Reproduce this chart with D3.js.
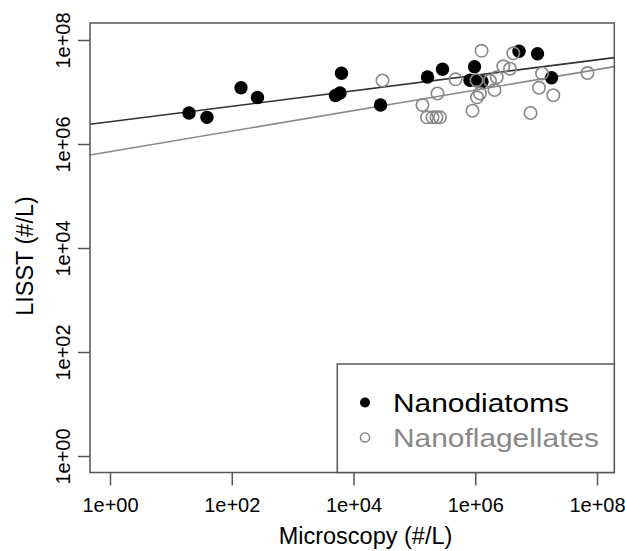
<!DOCTYPE html>
<html><head><meta charset="utf-8">
<script src="https://cdn.jsdelivr.net/npm/d3@7"></script>
<style>
html,body{margin:0;padding:0;background:#fff;}
svg{display:block;font-family:"Liberation Sans",Arial,Helvetica,sans-serif;}
</style></head>
<body>
<svg id="chart" width="625" height="551"></svg>
<script>
// ---- data (log10 values) ----
const diatomLogX = [1.298,1.593,2.152,2.423,3.704,3.778,3.803,4.444,5.216,5.462,5.988,5.914,6.021,6.111,6.719,7.023,7.253];
const diatomLogY = [6.596,6.513,7.083,6.894,6.933,6.981,7.360,6.750,7.288,7.437,7.487,7.225,7.217,7.198,7.783,7.735,7.275];
const flagLogX = [4.476,5.676,6.103,5.380,5.133,5.207,5.298,5.363,5.421,5.955,6.029,6.078,6.021,6.242,6.316,6.352,6.461,6.571,6.625,7.097,7.047,7.282,6.908,7.844];
const flagLogY = [7.221,7.244,7.792,6.971,6.750,6.513,6.513,6.513,6.513,6.640,6.898,6.971,7.227,7.217,7.038,7.283,7.494,7.448,7.744,7.356,7.081,6.938,6.596,7.365];
// regression lines in log-log space: [intercept, slope]
const diatomFit = [6.428, 0.1488];
const flagFit = [5.853, 0.1973];
const tickValues = [1, 1e2, 1e4, 1e6, 1e8];
const tickLabels = ["1e+00","1e+02","1e+04","1e+06","1e+08"];
const seriesNames = ["Nanodiatoms","Nanoflagellates"];
const xTitle = "Microscopy (#/L)";
const yTitle = "LISST (#/L)";

// ---- layout ----
const L = 90, R = 614.3, T = 23, B = 472.5;
const svg = d3.select("#chart");
const x = d3.scaleLog().domain([Math.pow(10,-0.3285), Math.pow(10,8.284)]).range([L, R]);
const y = d3.scaleLog().domain([Math.pow(10,-0.317), Math.pow(10,8.327)]).range([B, T]);

svg.append("defs").append("clipPath").attr("id","clip")
  .append("rect").attr("x",L).attr("y",T).attr("width",R-L).attr("height",B-T);

// regression lines
function fitLine(fit, color){
  const xs = x.domain();
  const pts = xs.map(v => [x(v), y(Math.pow(10, fit[0] + fit[1]*Math.log10(v)))]);
  svg.append("line").attr("clip-path","url(#clip)")
    .attr("x1",pts[0][0]).attr("y1",pts[0][1]).attr("x2",pts[1][0]).attr("y2",pts[1][1])
    .attr("stroke",color).attr("stroke-width",1.6);
}
fitLine(diatomFit, "#333");
fitLine(flagFit, "#8a8a8a");

const diatoms = diatomLogX.map((v,i)=>({x:Math.pow(10,v), y:Math.pow(10,diatomLogY[i])}));
const flags = flagLogX.map((v,i)=>({x:Math.pow(10,v), y:Math.pow(10,flagLogY[i])}));

svg.append("g").selectAll("circle").data(diatoms).join("circle")
  .attr("cx",d=>x(d.x)).attr("cy",d=>y(d.y)).attr("r",6.7).attr("fill","#000");
svg.append("g").selectAll("circle").data(flags).join("circle")
  .attr("cx",d=>x(d.x)).attr("cy",d=>y(d.y)).attr("r",6.2)
  .attr("fill","none").attr("stroke","#888").attr("stroke-width",1.6);

// box
svg.append("rect").attr("x",L).attr("y",T).attr("width",R-L).attr("height",B-T)
  .attr("fill","none").attr("stroke","#555").attr("stroke-width",1.5);

// axes
const fmt = d => tickLabels[tickValues.indexOf(d)];
const xa = svg.append("g").attr("transform",`translate(0,${B})`)
  .call(d3.axisBottom(x).tickValues(tickValues).tickFormat(fmt).tickSize(13).tickPadding(12));
xa.select(".domain").remove();
xa.selectAll("line").attr("stroke","#555").attr("stroke-width",1.5);
xa.selectAll("text").attr("font-size",20).attr("fill","#000").attr("font-family","Liberation Sans, Arial, sans-serif");

const ya = svg.append("g").attr("transform",`translate(${L},0)`)
  .call(d3.axisLeft(y).tickValues(tickValues).tickFormat(fmt).tickSize(12).tickPadding(0));
ya.select(".domain").remove();
ya.selectAll("line").attr("stroke","#555").attr("stroke-width",1.5);
ya.selectAll("text").attr("font-size",20).attr("fill","#000")
  .attr("font-family","Liberation Sans, Arial, sans-serif")
  .attr("text-anchor","middle").attr("dy",null)
  .attr("transform","rotate(-90)").attr("x",0).attr("y",-20);
// place rotated labels: baseline at x=70, centered on tick
ya.selectAll(".tick text").each(function(){
  d3.select(this).attr("transform","translate(-20,0) rotate(-90)").attr("x",0).attr("y",0);
});

// axis titles
svg.append("text").attr("x",(x(1)+x(1e8))/2 + 12).attr("y",544).attr("text-anchor","middle")
  .attr("font-size",23.5).attr("fill","#000").text(xTitle);
svg.append("text").attr("transform",`translate(33,${(y(1)+y(1e8))/2 + 8}) rotate(-90)`)
  .attr("text-anchor","middle").attr("font-size",23.5).attr("fill","#000").text(yTitle);

// legend
const lg = svg.append("g");
lg.append("rect").attr("x",337.3).attr("y",364).attr("width",R-337.3).attr("height",B-364)
  .attr("fill","#fff").attr("stroke","#555").attr("stroke-width",1.5);
lg.append("circle").attr("cx",365).attr("cy",402.5).attr("r",5).attr("fill","#000");
lg.append("circle").attr("cx",365).attr("cy",437.5).attr("r",4.6).attr("fill","none")
  .attr("stroke","#888").attr("stroke-width",1.5);
lg.append("text").attr("x",393).attr("y",412).attr("font-size",26.5).attr("fill","#000")
  .attr("textLength",176).attr("lengthAdjust","spacingAndGlyphs").text(seriesNames[0]);
lg.append("text").attr("x",393).attr("y",447).attr("font-size",26.5).attr("fill","#888")
  .attr("textLength",206).attr("lengthAdjust","spacingAndGlyphs").text(seriesNames[1]);
</script>
</body></html>
